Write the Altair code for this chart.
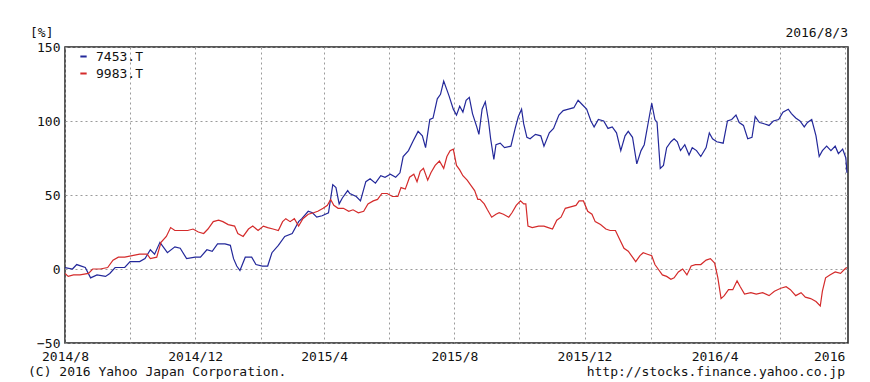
import altair as alt
import pandas as pd

# ---- data (percent change since 2014/8/1), days since 2014-08-01 ----
blue_days = [0, 7, 11, 19, 24, 30, 38, 42, 47, 56, 61, 70, 75, 80, 84, 89, 96, 103, 108, 114,
             122, 127, 133, 138, 143, 150, 155, 158, 161, 164, 169, 175, 179, 185, 190, 194, 200, 206, 213, 219,
             222, 228, 232, 236, 241, 247, 251, 254, 257, 260, 265, 267, 273, 277, 282, 286, 291, 296, 300, 305,
             310, 314, 317, 322, 326, 331, 335, 338, 342, 345, 349, 352, 355, 358, 360, 364, 367, 370, 373, 376,
             379, 382, 386, 388, 391, 394, 397, 399, 402, 404, 408, 412, 418, 422, 425, 428, 430, 433, 436, 441,
             446, 449, 454, 458, 463, 467, 472, 477, 481, 485, 489, 493, 496, 500, 505, 509, 513, 517, 521, 525,
             528, 532, 536, 540, 543, 547, 550, 553, 555, 558, 561, 564, 568, 571, 574, 577, 581, 585, 588, 592,
             596, 601, 604, 607, 611, 617, 621, 625, 629, 632, 636, 640, 644, 647, 651, 656, 660, 664, 669, 673,
             678, 681, 685, 689, 693, 696, 700, 704, 707, 710, 714, 718, 722, 725, 729, 732, 733]
blue_vals = [1, 0, 3, 1, -6, -4, -5, -3, 1, 1, 5, 5, 7, 13, 10, 18, 11, 15, 14, 7,
             8, 8, 13, 12, 17, 17, 16, 7, 2, -1, 8, 8, 3, 2, 2, 11, 16, 22, 24, 32,
             34, 39, 38, 35, 36, 38, 57, 55, 44, 48, 53, 51, 49, 46, 59, 61, 58, 63, 62, 64,
             62, 65, 76, 80, 86, 93, 90, 82, 101, 102, 115, 118, 127, 121, 117, 108, 104, 110, 106, 114,
             116, 105, 96, 91, 108, 113, 100, 88, 74, 84, 85, 82, 83, 95, 103, 108, 98, 89, 88, 91,
             90, 83, 92, 95, 104, 107, 108, 109, 114, 111, 108, 100, 96, 101, 100, 95, 96, 92, 80, 90,
             93, 89, 71, 80, 84, 100, 112, 101, 99, 68, 70, 82, 86, 88, 86, 80, 84, 77, 82, 80,
             76, 82, 92, 88, 86, 85, 100, 101, 104, 99, 97, 88, 89, 103, 99, 98, 97, 100, 101, 106,
             108, 105, 102, 100, 96, 99, 101, 90, 76, 80, 83, 80, 83, 78, 81, 75, 65]

red_days = [0, 3, 8, 14, 22, 26, 33, 40, 45, 50, 56, 63, 70, 77, 80, 86, 90, 95, 99, 103,
            110, 115, 120, 125, 130, 134, 139, 144, 148, 153, 159, 162, 167, 172, 176, 181, 186, 190, 195, 200,
            204, 207, 211, 215, 219, 223, 228, 233, 237, 242, 246, 249, 252, 256, 261, 266, 270, 275, 280, 284,
            289, 293, 297, 302, 307, 312, 315, 319, 323, 327, 330, 333, 336, 340, 343, 347, 351, 355, 358, 361,
            364, 367, 370, 373, 377, 381, 384, 387, 389, 393, 396, 400, 404, 407, 411, 416, 419, 423, 427, 430,
            432, 434, 438, 444, 449, 453, 457, 461, 465, 469, 474, 479, 482, 486, 490, 494, 497, 502, 507, 511,
            516, 520, 524, 528, 532, 535, 539, 542, 546, 550, 553, 556, 560, 564, 568, 571, 575, 579, 583, 587,
            591, 596, 601, 605, 609, 612, 615, 618, 622, 626, 630, 633, 637, 643, 648, 654, 660, 665, 671, 676,
            680, 685, 690, 694, 699, 704, 708, 710, 713, 717, 722, 727, 731, 733]
red_vals = [-3, -5, -4, -4, -3, 0, 0, 1, 6, 8, 8, 9, 10, 10, 7, 8, 18, 22, 28, 26,
            26, 26, 27, 25, 24, 27, 32, 33, 32, 30, 29, 24, 22, 27, 29, 26, 29, 28, 27, 26,
            32, 34, 32, 34, 29, 34, 37, 38, 39, 41, 43, 47, 43, 41, 41, 39, 40, 38, 39, 44,
            46, 47, 51, 51, 49, 49, 55, 54, 62, 64, 59, 66, 68, 60, 65, 70, 73, 68, 76, 80,
            81, 70, 67, 63, 60, 56, 53, 47, 47, 44, 40, 35, 37, 38, 37, 35, 38, 43, 46, 44,
            44, 29, 28, 29, 29, 28, 27, 33, 35, 41, 42, 43, 46, 46, 39, 37, 32, 30, 27, 26,
            26, 20, 14, 12, 8, 5, 9, 11, 10, 9, 3, 0, -4, -5, -7, -6, -2, 0, -4, 2,
            3, 3, 6, 7, 4, -6, -20, -18, -14, -14, -8, -12, -17, -16, -17, -16, -18, -15, -13, -12,
            -14, -18, -16, -19, -20, -22, -25, -15, -6, -4, -2, -3, 0, 1]

series_names = ["7453.T", "9983.T"]
series_colors = ["#23289a", "#d42b2b"]
y_ticks = [-50, 0, 50, 100, 150]
unit_label = "[%]"
date_label = "2016/8/3"
copyright_label = "(C) 2016 Yahoo Japan Corporation."
source_label = "http://stocks.finance.yahoo.co.jp"

start = pd.Timestamp("2014-08-01")


def make_frame(days, vals, name):
    dates = (start + pd.to_timedelta(days, unit="D")).strftime("%Y-%m-%d")
    return pd.DataFrame({"date": list(dates), "value": vals, "series": name})


df = pd.concat([make_frame(blue_days, blue_vals, series_names[0]),
                make_frame(red_days, red_vals, series_names[1])], ignore_index=True)

FONT = "DejaVu Sans Mono"
grid_dates = [alt.DateTime(year=y, month=m, date=1, utc=True)
              for (y, m) in [(2014, 8), (2014, 10), (2014, 12), (2015, 2), (2015, 4), (2015, 6),
                             (2015, 8), (2015, 10), (2015, 12), (2016, 2), (2016, 4), (2016, 6), (2016, 8)]]

label_expr = ("utcmonth(datum.value) % 4 == 3 ? "
              "((utcyear(datum.value) == 2016 && utcmonth(datum.value) == 7) ? '2016' : "
              "utcFormat(datum.value, '%Y/%-m')) : ''")

x_enc = alt.X(
    "date:T",
    scale=alt.Scale(type="utc", domain=["2014-08-01", "2016-08-04"]),
    axis=alt.Axis(values=grid_dates, labelExpr=label_expr, grid=True, gridDash=[2, 3],
                  gridColor="#9a9a9a", domain=False, ticks=False, labelFont=FONT, labelFontSize=13,
                  labelColor="#111", labelPadding=7, title=None, labelOverlap=False, labelFlush=False,
                  labelAlign={"condition": {"test": "utcyear(datum.value) == 2016 && utcmonth(datum.value) == 7",
                                            "value": "right"}, "value": "center"}),
)
y_enc = alt.Y(
    "value:Q",
    scale=alt.Scale(domain=[-50, 150], nice=False, zero=False),
    axis=alt.Axis(values=y_ticks, grid=True, gridDash=[2, 3], gridColor="#9a9a9a", domain=False,
                  ticks=False, labelFont=FONT, labelFontSize=13, labelColor="#111", labelPadding=5,
                  title=None),
)

lines = alt.Chart(df).mark_line(strokeWidth=1.2, clip=True).encode(
    x=x_enc,
    y=y_enc,
    color=alt.Color("series:N", scale=alt.Scale(domain=series_names, range=series_colors),
                    legend=alt.Legend(orient="none", legendX=12, legendY=3, title=None,
                                      symbolType="stroke", symbolSize=40, symbolStrokeWidth=2,
                                      labelFont=FONT, labelFontSize=13, labelColor="#111",
                                      labelOffset=6, rowPadding=3)),
    detail="series:N",
)


def text_layer(txt, x, y, align):
    return alt.Chart(pd.DataFrame({"t": [txt]})).mark_text(
        align=align, baseline="middle", font=FONT, fontSize=13, color="#111"
    ).encode(x=alt.value(x), y=alt.value(y), text="t:N")


chart = alt.layer(
    lines,
    text_layer(unit_label, -35, -14, "left"),
    text_layer(date_label, 783, -14, "right"),
    text_layer(copyright_label, -37, 325, "left"),
    text_layer(source_label, 780, 325, "right"),
).properties(
    width=783, height=296, autosize="none",
    padding={"left": 65, "top": 47, "right": 22, "bottom": 39},
    background="white",
).configure_view(stroke="#222", strokeWidth=1.5)

chart.save("out.html", embed_options={"renderer": "svg", "actions": False})
